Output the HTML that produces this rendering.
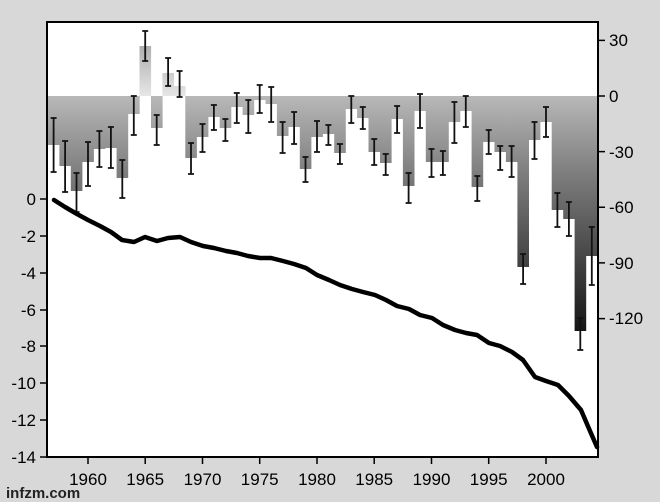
<!DOCTYPE html>
<html><head><style>html,body{margin:0;padding:0;background:#d8d8d8;}svg{display:block;}</style></head><body>
<svg width="660" height="502" xmlns="http://www.w3.org/2000/svg" font-family="Liberation Sans, Arial, sans-serif">
<defs>
<linearGradient id="gn" gradientUnits="userSpaceOnUse" x1="0" y1="96" x2="0" y2="332">
<stop offset="0" stop-color="#b8b8b8"/><stop offset="0.35" stop-color="#7a7a7a"/><stop offset="1" stop-color="#151515"/></linearGradient>
<linearGradient id="gp" gradientUnits="userSpaceOnUse" x1="0" y1="96" x2="0" y2="40">
<stop offset="0" stop-color="#e6e6e6"/><stop offset="1" stop-color="#a8a8a8"/></linearGradient>
</defs>
<rect x="0" y="0" width="660" height="502" fill="#d8d8d8"/>
<rect x="47" y="22" width="551" height="435" fill="#fff"/>
<path fill="url(#gp)" d="M139.5 96h11.6V46h-11.6ZM162.4 96h11.6V73h-11.6ZM173.9 96h11.6V86h-11.6Z"/>
<path fill="url(#gn)" d="M47.9 96h11.6V145h-11.6ZM59.4 96h11.6V166h-11.6ZM70.8 96h11.6V191h-11.6ZM82.3 96h11.6V162h-11.6ZM93.7 96h11.6V149h-11.6ZM105.2 96h11.6V148h-11.6ZM116.6 96h11.6V178h-11.6ZM128.1 96h11.6V114h-11.6ZM151 96h11.6V128h-11.6ZM185.3 96h11.6V158h-11.6ZM196.8 96h11.6V137h-11.6ZM208.2 96h11.6V117h-11.6ZM219.7 96h11.6V128h-11.6ZM231.1 96h11.6V107h-11.6ZM242.6 96h11.6V115h-11.6ZM254 96h11.6V100h-11.6ZM265.5 96h11.6V104h-11.6ZM276.9 96h11.6V136h-11.6ZM288.4 96h11.6V127h-11.6ZM299.8 96h11.6V169h-11.6ZM311.3 96h11.6V137h-11.6ZM322.7 96h11.6V134h-11.6ZM334.2 96h11.6V153h-11.6ZM345.6 96h11.6V109h-11.6ZM357.1 96h11.6V118h-11.6ZM368.5 96h11.6V152h-11.6ZM380 96h11.6V163h-11.6ZM391.4 96h11.6V119h-11.6ZM402.9 96h11.6V186h-11.6ZM414.3 96h11.6V111h-11.6ZM425.8 96h11.6V162h-11.6ZM437.2 96h11.6V162h-11.6ZM448.7 96h11.6V122h-11.6ZM460.1 96h11.6V111h-11.6ZM471.6 96h11.6V187h-11.6ZM483 96h11.6V142h-11.6ZM494.5 96h11.6V152h-11.6ZM505.9 96h11.6V162h-11.6ZM517.4 96h11.6V267h-11.6ZM528.8 96h11.6V140h-11.6ZM540.3 96h11.6V122h-11.6ZM551.7 96h11.6V210h-11.6ZM563.2 96h11.6V219h-11.6ZM574.6 96h11.6V331h-11.6ZM586.1 96h11.6V256h-11.6Z"/>
<path fill="none" stroke="#111" stroke-width="1.8" d="M53.6 118V172M50.6 118h6M50.6 172h6
M65.1 141V192M62.1 141h6M62.1 192h6
M76.5 173V212M73.5 173h6M73.5 212h6
M88 142V186M85 142h6M85 186h6
M99.4 131V167M96.4 131h6M96.4 167h6
M110.9 127V168M107.9 127h6M107.9 168h6
M122.3 160V198M119.3 160h6M119.3 198h6
M133.8 96V135M130.8 96h6M130.8 135h6
M145.2 31V61M142.2 31h6M142.2 61h6
M156.7 115V145M153.7 115h6M153.7 145h6
M168.1 58V86M165.1 58h6M165.1 86h6
M179.6 71V97M176.6 71h6M176.6 97h6
M191 143V174M188 143h6M188 174h6
M202.5 124V152M199.5 124h6M199.5 152h6
M213.9 105V130M210.9 105h6M210.9 130h6
M225.4 119V141M222.4 119h6M222.4 141h6
M236.8 93V123M233.8 93h6M233.8 123h6
M248.3 100V133M245.3 100h6M245.3 133h6
M259.7 85V113M256.7 85h6M256.7 113h6
M271.2 87V122M268.2 87h6M268.2 122h6
M282.6 122V153M279.6 122h6M279.6 153h6
M294.1 112V144M291.1 112h6M291.1 144h6
M305.5 157V182M302.5 157h6M302.5 182h6
M317 121V152M314 121h6M314 152h6
M328.4 125V145M325.4 125h6M325.4 145h6
M339.9 144V164M336.9 144h6M336.9 164h6
M351.3 96V123M348.3 96h6M348.3 123h6
M362.8 107V129M359.8 107h6M359.8 129h6
M374.2 139V165M371.2 139h6M371.2 165h6
M385.7 154V175M382.7 154h6M382.7 175h6
M397.1 106V133M394.1 106h6M394.1 133h6
M408.6 173V203M405.6 173h6M405.6 203h6
M420 94V128M417 94h6M417 128h6
M431.5 149V177M428.5 149h6M428.5 177h6
M442.9 151V175M439.9 151h6M439.9 175h6
M454.4 102V143M451.4 102h6M451.4 143h6
M465.8 96V127M462.8 96h6M462.8 127h6
M477.3 176V201M474.3 176h6M474.3 201h6
M488.7 130V154M485.7 130h6M485.7 154h6
M500.2 146V170M497.2 146h6M497.2 170h6
M511.6 146V177M508.6 146h6M508.6 177h6
M523.1 254V284M520.1 254h6M520.1 284h6
M534.5 122V159M531.5 122h6M531.5 159h6
M546 107V137M543 107h6M543 137h6
M557.4 193V227M554.4 193h6M554.4 227h6
M568.9 202V236M565.9 202h6M565.9 236h6
M580.3 318V350M577.3 318h6M577.3 350h6
M591.8 227V285M588.8 227h6M588.8 285h6"/>
<polyline fill="none" stroke="#000" stroke-width="4.5" stroke-linejoin="round" stroke-linecap="round" points="54,200 65,207 77,214 88,220 100,226 111,232 122,240 134,242 145,237 157,241 168,238 180,237 191,242 203,246 214,248 226,251 237,253 248,256 260,258 271,258 283,261 294,264 306,268 317,275 329,280 340,285 352,289 363,292 375,295 386,300 397,306 409,309 420,315 432,318 443,325 455,330 466,333 477,335 489,343 500,346 512,352 523,360 535,377 546,381 558,385 569,396 581,410 590,431 597,447"/>
<rect x="47" y="22" width="551" height="435" fill="none" stroke="#000" stroke-width="2"/>
<path stroke="#000" stroke-width="1.5" d="M40 199h7M40 236h7M40 273h7M40 310h7M40 346h7M40 383h7M40 420h7M40 457h7
M598 40.4h7M598 96h7M598 151.6h7M598 207.3h7M598 262.9h7M598 318.6h7
M88 457v7M145.2 457v7M202.5 457v7M259.7 457v7M317 457v7M374.2 457v7M431.5 457v7M488.7 457v7M546 457v7"/>
<g font-size="17" fill="#000" text-anchor="end">
<text x="36" y="205">0</text><text x="36" y="242">-2</text><text x="36" y="279">-4</text><text x="36" y="316">-6</text><text x="36" y="352">-8</text><text x="36" y="389">-10</text><text x="36" y="426">-12</text><text x="36" y="463">-14</text>
</g>
<g font-size="17" fill="#000">
<text x="609" y="46">30</text><text x="609" y="102">0</text><text x="609" y="158">-30</text><text x="609" y="213">-60</text><text x="609" y="269">-90</text><text x="609" y="324">-120</text>
</g>
<g font-size="17" fill="#000" text-anchor="middle">
<text x="88" y="485">1960</text><text x="145.2" y="485">1965</text><text x="202.5" y="485">1970</text><text x="259.7" y="485">1975</text><text x="317" y="485">1980</text><text x="374.2" y="485">1985</text><text x="431.5" y="485">1990</text><text x="488.7" y="485">1995</text><text x="546" y="485">2000</text>
</g>
<text x="6" y="498" font-size="15" font-weight="bold" fill="#222">infzm.com</text>
</svg>
</body></html>
